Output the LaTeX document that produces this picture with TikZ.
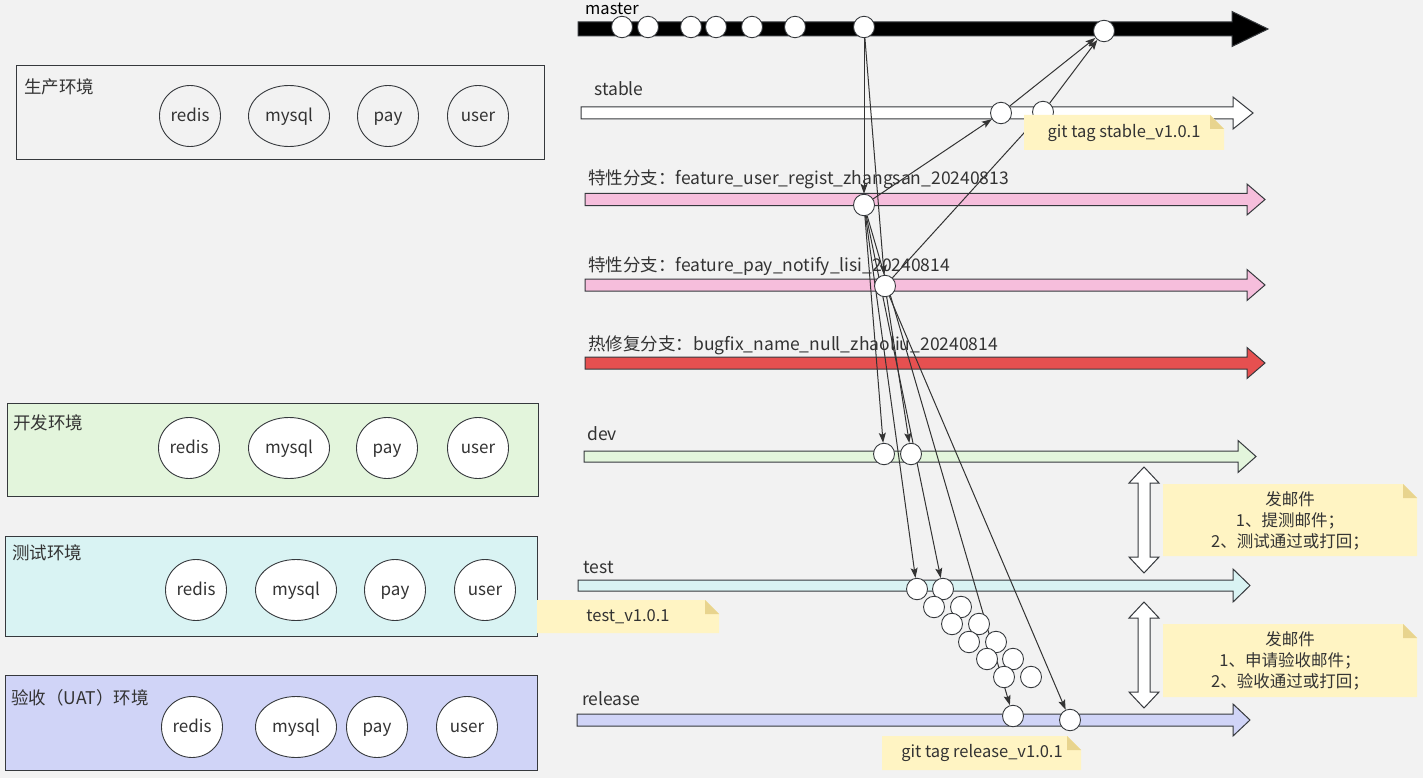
\documentclass[tikz,border=0pt]{standalone}
\usepackage{fontspec}
\setmainfont{Noto Sans CJK SC}
\usetikzlibrary{shapes.geometric,arrows.meta}
\pgfdeclarelayer{back}
\pgfdeclarelayer{mid}
\pgfdeclarelayer{front}
\pgfsetlayers{back,mid,main,front}
\definecolor{bg}{HTML}{F2F2F2}
\definecolor{ln}{HTML}{36393D}
\definecolor{txt}{HTML}{333333}
\definecolor{pinkc}{HTML}{F6BEDC}
\definecolor{redc}{HTML}{E65050}
\definecolor{devc}{HTML}{E3F5DC}
\definecolor{testc}{HTML}{D9F3F3}
\definecolor{relc}{HTML}{D0D4F7}
\definecolor{notec}{HTML}{FFF4C3}
\definecolor{foldc}{HTML}{E8D48E}
\tikzset{
  commitnode/.style={ellipse, draw=ln, fill=white, line width=0.9pt, minimum width=21pt, minimum height=21.5pt, inner sep=0pt},
  svc/.style={ellipse, draw=ln, fill=white, line width=0.9pt, minimum width=61pt, minimum height=61pt, inner sep=0pt, text=txt, font=\fontsize{17}{20}\selectfont, text height=13.5pt, text depth=2pt},
  wsvc/.style={svc, minimum width=81pt},
  envbox/.style={draw=ln, line width=1pt},
  lbl/.style={anchor=west, inner sep=0pt, text=txt, font=\fontsize{17.5}{20}\selectfont},
  notetxt/.style={align=center, inner sep=0pt, text=txt, font=\fontsize{16.5}{21}\selectfont},
  edge/.style={draw=txt, line width=1pt, -{Stealth[length=10pt,width=7pt,inset=2pt]}},
}
\newcommand{\lanearr}[7]{%
  \draw[draw=ln, line width=1pt, fill=#7] (#1,#3-#4) -- (#2-#5,#3-#4) -- (#2-#5,#3-#6) -- (#2,#3) -- (#2-#5,#3+#6) -- (#2-#5,#3+#4) -- (#1,#3+#4) -- cycle;}
\newcommand{\yellownote}[5]{%
  \fill[notec] (#1,#2) -- (#3-#5,#2) -- (#3,#2+#5) -- (#3,#4) -- (#1,#4) -- cycle;
  \fill[foldc] (#3-#5,#2) -- (#3,#2+#5) -- (#3-#5,#2+#5) -- cycle;}
\newcommand{\dblarrow}[3]{% x, ytop, ybottom
  \draw[draw=ln, line width=1pt, fill=white] (#1,#2) -- (#1+15,#2+16) -- (#1+6,#2+16) -- (#1+6,#3-16) -- (#1+15,#3-16) -- (#1,#3) -- (#1-15,#3-16) -- (#1-6,#3-16) -- (#1-6,#2+16) -- (#1-15,#2+16) -- cycle;}
\begin{document}
\begin{tikzpicture}[x=1pt,y=-1pt]
\useasboundingbox (0,0) rectangle (1423,778);

% background and lanes
\begin{pgfonlayer}{back}
\fill[bg] (0,0) rectangle (1423,778);
\lanearr{578}{1268}{29}{7}{36}{17.5}{black}
\lanearr{581}{1253}{113}{6}{20}{16}{white}
\lanearr{585}{1265}{199.5}{6}{18}{15.5}{pinkc}
\lanearr{585}{1265}{285}{6}{18}{15.5}{pinkc}
\lanearr{585}{1265}{363}{6}{18}{15.5}{redc}
\lanearr{584}{1256}{456.5}{5.5}{18}{16}{devc}
\lanearr{578}{1250}{585.5}{5.5}{17}{16.5}{testc}
\lanearr{577}{1250}{720}{6}{17}{16}{relc}
\end{pgfonlayer}

% environment boxes
\draw[envbox] (16,66) rectangle (544,160);
\draw[envbox, fill=devc] (7,403) rectangle (538,496);
\draw[envbox, fill=testc] (5,536) rectangle (537,636);
\draw[envbox, fill=relc] (5,675) rectangle (537,770);

\node[lbl] (eprod) at (24,87) {生产环境};
\node[lbl] (edev) at (13,423) {开发环境};
\node[lbl] (etest) at (12,553) {测试环境};
\node[lbl] (euat) at (11,698) {验收（UAT）环境};

\node[svc, fill=bg] (p1) at (190,116) {redis};
\node[wsvc, fill=bg] (p2) at (289,116) {mysql};
\node[svc, fill=bg] (p3) at (388,116) {pay};
\node[svc, fill=bg] (p4) at (478,116) {user};

\node[svc] (dv1) at (189,448) {redis};
\node[wsvc] (dv2) at (289,448) {mysql};
\node[svc] (dv3) at (387,448) {pay};
\node[svc] (dv4) at (478,448) {user};

\node[svc] (ts1) at (196,590) {redis};
\node[wsvc] (ts2) at (296,590) {mysql};
\node[svc] (ts3) at (395,590) {pay};
\node[svc] (ts4) at (485,590) {user};

\node[svc] (u1) at (192,727) {redis};
\node[wsvc] (u2) at (296,727) {mysql};
\node[svc] (u3) at (377,727) {pay};
\node[svc] (u4) at (467,727) {user};

\node[lbl, font=\fontsize{16.5}{18}\selectfont, text=black] (lmaster) at (585,9) {master};
\node[lbl] (lstable) at (594,89) {stable};
\node[lbl] (lf1) at (588,179) {特性分支：feature\_user\_regist\_zhangsan\_20240813};
\node[lbl] (lf2) at (588,266) {特性分支：feature\_pay\_notify\_lisi\_20240814};
\node[lbl] (lhf) at (588,345) {热修复分支：bugfix\_name\_null\_zhaoliu\_20240814};
\node[lbl] (ldev) at (587,434) {dev};
\node[lbl] (ltest) at (583,568) {test};
\node[lbl] (lrel) at (582,699) {release};

% commits
\node[commitnode] (m1) at (622,27) {};
\node[commitnode] (m2) at (648,27) {};
\node[commitnode] (m3) at (691,27) {};
\node[commitnode] (m4) at (716,27) {};
\node[commitnode] (m5) at (752,27) {};
\node[commitnode] (m6) at (795,27) {};
\node[commitnode] (m7) at (864,27) {};
\node[commitnode] (m8) at (1104,31) {};
\node[commitnode] (s1) at (1001,113) {};
\node[commitnode] (s2) at (1043,112) {};
\node[commitnode] (f1) at (864,205) {};
\node[commitnode] (f2) at (885,286) {};
\node[commitnode] (d1) at (884,454) {};
\node[commitnode] (d2) at (911,454) {};
\node[commitnode] (t1) at (917,589) {};
\node[commitnode] (t2) at (943,589) {};
\node[commitnode] (r1) at (1013,716) {};
\node[commitnode] (r2) at (1070,720) {};

% commit cluster between test and release
\node[commitnode] (c1) at (934,607) {};
\node[commitnode] (c2) at (961,607) {};
\node[commitnode] (c3) at (952,624) {};
\node[commitnode] (c4) at (979,624) {};
\node[commitnode] (c5) at (969,642) {};
\node[commitnode] (c6) at (996,642) {};
\node[commitnode] (c7) at (987,659) {};
\node[commitnode] (c8) at (1013,659) {};
\node[commitnode] (c9) at (1004,677) {};
\node[commitnode] (c10) at (1031,677) {};

% connectors
\begin{pgfonlayer}{mid}
\draw[edge] (m7) -- (f1);
\draw[edge] (m7) -- (f2);
\draw[edge] (f1) -- (s1);
\draw[edge] (s1) -- (m8);
\draw[edge] (f2) -- (s2);
\draw[edge] (s2) -- (m8);
\draw[edge] (f1) -- (d1);
\draw[edge] (f1) -- (t1);
\draw[edge] (f1) -- (t2);
\draw[edge] (f1) -- (r1);
\draw[edge] (f2) -- (d2);
\draw[edge] (f2) -- (r2);
\end{pgfonlayer}

% double arrows and notes
\begin{pgfonlayer}{front}
\dblarrow{1144}{467}{573}
\dblarrow{1144}{602}{708}
\yellownote{1024}{115}{1224}{150}{14}
\yellownote{537}{600}{719}{633}{14}
\yellownote{882}{736}{1081}{770}{14}
\yellownote{1163}{484}{1417}{556}{14}
\yellownote{1163}{624}{1417}{697}{14}
\node[notetxt] (nstable) at (1124,133) {git tag stable\_v1.0.1};
\node[notetxt] (ntest) at (628,617) {test\_v1.0.1};
\node[notetxt] (nrel) at (982,753) {git tag release\_v1.0.1};
\node[notetxt] (nmail1) at (1290,521) {发邮件\\1、提测邮件；\\2、测试通过或打回；};
\node[notetxt] (nmail2) at (1290,661) {发邮件\\1、申请验收邮件；\\2、验收通过或打回；};
\end{pgfonlayer}
\end{tikzpicture}
\end{document}
